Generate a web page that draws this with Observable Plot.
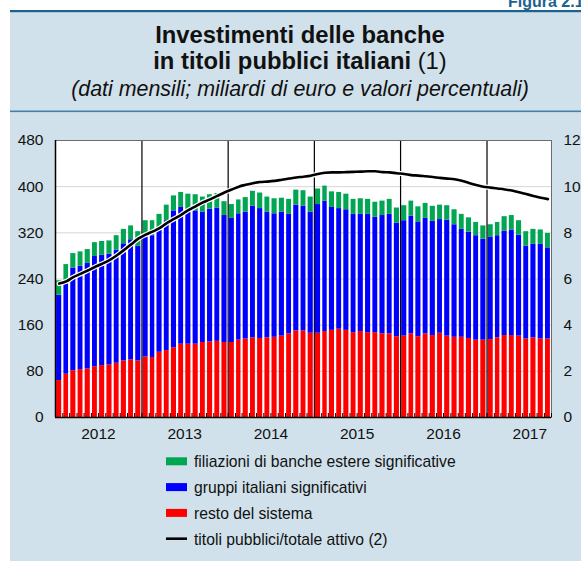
<!DOCTYPE html>
<html><head><meta charset="utf-8">
<script src="https://cdn.jsdelivr.net/npm/d3@7"></script>
<script src="https://cdn.jsdelivr.net/npm/@observablehq/plot@0.6"></script>
<style>
body{margin:0;background:#fff;font-family:"Liberation Sans",Arial,sans-serif;}
#wrap{position:relative;width:581px;height:561px;overflow:hidden;background:#fff;}
#bg{position:absolute;left:0;top:0;}
#plot{position:absolute;left:0;top:114px;}
</style></head><body><div id="wrap"><svg id="bg" width="581" height="561"></svg><div id="plot"></div></div>
<script>
// ---- texts ----
const figLabel = "Figura 2.1";
const titleLine1 = "Investimenti delle banche";
const titleLine2Bold = "in titoli pubblici italiani";
const titleLine2Note = " (1)";
const subtitle = "(dati mensili; miliardi di euro e valori percentuali)";

// ---- series (monthly, Jan 2012 - Sep 2017) ----
const seriesNames = ["resto del sistema", "gruppi italiani significativi", "filiazioni di banche estere significative"];
const seriesColors = ["#ff0000", "#0000ff", "#00a651"];
const lineLabel = "titoli pubblici/totale attivo (2)";

const restoDelSistema = [64,75,81,83,84,88,90,91,94,98,100,98,
  105,104,113,116,121,127,127,127,130,131,132,130,
  130,134,136,138,137,138,139,141,145,150,150,146,
  146,149,151,153,151,147,149,147,147,145,145,140,
  141,145,140,145,142,146,141,139,139,137,134,134,
  135,138,142,142,141,136,138,136,136];
const gruppiItaliani = [148,156,178,179,183,191,191,192,196,203,208,199,
  210,211,212,225,237,237,231,231,226,230,231,220,
  215,219,220,228,225,218,214,215,207,218,216,210,
  223,226,213,209,209,205,203,205,200,205,207,197,
  200,204,199,200,198,197,201,195,187,184,181,175,
  177,177,181,183,175,161,162,164,158];
const filiazioniEstere = [25,34,25,25,24,24,24,23,25,25,24,25,
  26,26,27,27,26,26,29,28,26,25,25,24,
  24,24,25,26,27,26,26,24,26,26,27,26,
  27,26,27,28,27,26,27,26,26,25,26,26,
  26,26,26,26,26,25,25,26,26,25,23,23,
  22,23,25,25,25,25,26,25,25];
const titoliSuAttivo = [5.8,5.9,6.08,6.22,6.37,6.52,6.66,6.82,7.02,7.25,7.5,7.75,
  7.92,8.05,8.2,8.42,8.6,8.78,8.98,9.15,9.32,9.45,9.6,9.75,
  9.88,10.0,10.08,10.15,10.2,10.22,10.25,10.3,10.35,10.4,10.43,10.47,
  10.55,10.6,10.62,10.62,10.63,10.64,10.65,10.67,10.67,10.63,10.62,10.58,
  10.55,10.5,10.48,10.45,10.42,10.38,10.35,10.32,10.26,10.16,10.07,10.0,
  9.96,9.92,9.88,9.83,9.76,9.68,9.6,9.52,9.46];

// ---- axis ticks ----
const leftTicks = [0,80,160,240,320,400,480];
const rightTicks = [0,2,4,6,8,10,12];
const years = [2012,2013,2014,2015,2016,2017];

// ---- build tables ----
const months = d3.utcMonth.range(new Date(Date.UTC(2012,0,1)), new Date(Date.UTC(2017,9,1)));
const seriesValues = [restoDelSistema, gruppiItaliani, filiazioniEstere];
const bars = [];
months.forEach((m, i) => {
  const next = d3.utcMonth.offset(m, 1);
  seriesNames.forEach((s, k) => bars.push({start: m, end: next, series: s, value: seriesValues[k][i]}));
});
const ratio = leftTicks[leftTicks.length-1] / rightTicks[rightTicks.length-1];
const lineData = months.map((m, i) => ({date: new Date((+m + +d3.utcMonth.offset(m,1)) / 2), pct: titoliSuAttivo[i]}));
const yearStarts = years.map(y => new Date(Date.UTC(y,0,1)));
const midYears = years.map(y => new Date(Date.UTC(y,6,1)));
const monthBounds = months.concat([d3.utcMonth.offset(months[months.length-1],1)]);
const xDomain = [months[0], monthBounds[monthBounds.length-1]];

const chart = Plot.plot({
  width: 581, height: 332,
  marginLeft: 55, marginRight: 30, marginTop: 26, marginBottom: 29,
  style: {background: "transparent", fontFamily: "'Liberation Sans', Arial, sans-serif", fontSize: "15.5px", color: "#111", overflow: "visible"},
  x: {type: "utc", domain: xDomain},
  y: {domain: [leftTicks[0], leftTicks[leftTicks.length-1]]},
  color: {domain: seriesNames, range: seriesColors},
  marks: [
    Plot.frame({fill: "white", stroke: null}),
    Plot.ruleY(leftTicks.slice(1, -1), {stroke: "#d6d6d6"}),
    Plot.rectY(bars, {x1: "start", x2: "end", y: "value", fill: "series", insetLeft: 1.1, insetRight: 1.1}),
    Plot.ruleX(yearStarts.slice(1), {stroke: "black", strokeWidth: 1.2}),
    Plot.line(lineData, {x: "date", y: d => d.pct * ratio, stroke: "white", strokeWidth: 5, curve: "monotone-x"}),
    Plot.line(lineData, {x: "date", y: d => d.pct * ratio, stroke: "black", strokeWidth: 2.6, curve: "monotone-x"}),
    Plot.frame({stroke: "#6b6b6b"}),
    Plot.ruleY([leftTicks[0]], {stroke: "black", strokeWidth: 1.5}),
    Plot.ruleX([xDomain[0]], {stroke: "black", strokeWidth: 1.5}),
    Plot.axisX({ticks: monthBounds, tickSize: -4, tickFormat: () => "", stroke: "black", label: null}),
    Plot.axisX({ticks: midYears, tickSize: 0, tickPadding: 10, tickFormat: d3.utcFormat("%Y"), label: null}),
    Plot.axisY({ticks: leftTicks, anchor: "left", tickSize: 0, tickPadding: 12, label: null}),
    Plot.axisY({ticks: leftTicks, anchor: "right", tickSize: 0, tickPadding: 12, tickFormat: d => String(d / ratio), label: null})
  ]
});
document.getElementById("plot").appendChild(chart);

// ---- background panel, titles and legend ----
const bg = d3.select("#bg");
const font = "'Liberation Sans', Arial, sans-serif";
bg.append("rect").attr("x", 10).attr("y", 11).attr("width", 571).attr("height", 550).attr("fill", "#d0e1eb");
bg.append("rect").attr("x", 10).attr("y", 10).attr("width", 571).attr("height", 2.2).attr("fill", "#1b628f");
bg.append("rect").attr("x", 10).attr("y", 110.5).attr("width", 571).attr("height", 1.6).attr("fill", "#4283a8");
bg.append("text").attr("x", 508).attr("y", 6.5).attr("font-family", font).attr("font-weight", "bold")
  .attr("font-size", 16).attr("fill", "#1b628f").text(figLabel);
const cx = 300;
bg.append("text").attr("x", cx).attr("y", 43).attr("text-anchor", "middle").attr("font-family", font)
  .attr("font-weight", "bold").attr("font-size", 23.8).attr("fill", "#111").text(titleLine1);
const t2 = bg.append("text").attr("x", cx).attr("y", 69).attr("text-anchor", "middle").attr("font-family", font)
  .attr("font-size", 23.8).attr("fill", "#111");
t2.append("tspan").attr("font-weight", "bold").text(titleLine2Bold);
t2.append("tspan").text(titleLine2Note);
bg.append("text").attr("x", cx).attr("y", 96).attr("text-anchor", "middle").attr("font-family", font)
  .attr("font-style", "italic").attr("font-size", 21.4).attr("fill", "#111").text(subtitle);

const legendItems = [
  {label: seriesNames[2], color: seriesColors[2], type: "rect"},
  {label: seriesNames[1], color: seriesColors[1], type: "rect"},
  {label: seriesNames[0], color: seriesColors[0], type: "rect"},
  {label: lineLabel, color: "black", type: "line"}
];
legendItems.forEach((it, i) => {
  const base = 467.3 + i * 25.8;
  if (it.type === "rect") {
    bg.append("rect").attr("x", 166).attr("y", base - 10).attr("width", 21).attr("height", 8).attr("fill", it.color);
  } else {
    bg.append("line").attr("x1", 166).attr("x2", 187).attr("y1", base - 6).attr("y2", base - 6)
      .attr("stroke", it.color).attr("stroke-width", 2.6);
  }
  bg.append("text").attr("x", 194).attr("y", base).attr("font-family", font).attr("font-size", 15.7)
    .attr("fill", "#111").text(it.label);
});
</script></body></html>
